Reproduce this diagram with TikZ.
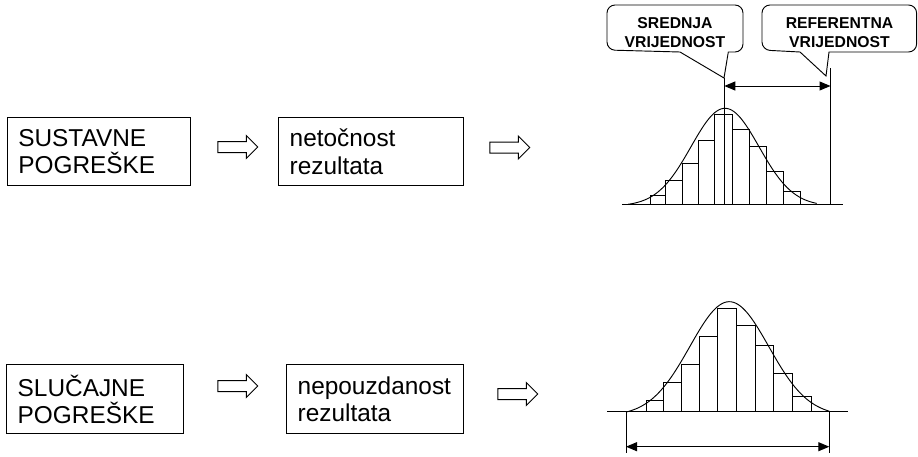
\documentclass[tikz,border=0pt]{standalone}
\usepackage{fontspec}
\setmainfont{Liberation Sans}
\usetikzlibrary{shapes.arrows,arrows.meta}
\begin{document}
\begin{tikzpicture}[x=0.75pt,y=-0.75pt,line width=0.75pt,
  box/.style={draw, align=left, inner xsep=8.25pt, inner ysep=0pt,
    minimum height=51.5pt, text width=#1,
    font=\fontsize{18.3pt}{20.6pt}\selectfont},
  blockarrow/.style={draw, single arrow, inner xsep=0pt, inner ysep=3.75pt,
    minimum height=30pt, minimum width=16.5pt,
    single arrow head extend=4.5pt},
  bubbletext/.style={align=center, inner sep=0pt,
    font=\bfseries\fontsize{11.8pt}{14.25pt}\selectfont},
  bubble/.style={draw, line width=0.7pt},
  dimline/.style={{Triangle[length=8.25pt,width=6.75pt]}-{Triangle[length=8.25pt,width=6.75pt]}},
  bar/.style={draw, line width=0.7pt},
  curve/.style={line width=0.7pt}
]
\useasboundingbox (0,0) rectangle (918,457);

% ---------- systematic errors ----------
\node[box=121.05pt] (b1) at (99,151.6) {SUSTAVNE\\POGREŠKE};
\node[blockarrow] (a1) at (235,147) {};
\node[box=122.25pt] (b2) at (371.2,151.6) {netočnost\\rezultata};
\node[blockarrow] (a2) at (507,147.5) {};

% histogram with the shifted mean
\coordinate (base1l) at (622,204);
\coordinate (base1r) at (843,204);
\draw (base1l) -- (base1r);
\foreach \xa/\xb/\t in {650/665.7/195.7, 665.7/682.3/180, 682.3/698.7/163.3,
    698.7/714.3/140, 714.3/732.3/114.3, 732.3/749.3/129, 749.3/766/146.7,
    766/783.3/171.7, 783.3/800.7/191.7}
  \draw[bar] (\xa,204) rectangle (\xb,\t);
\draw[curve] plot[domain=-96.7:91.7, samples=90, smooth]
  ({725+\x}, {204-95.7*(exp(-(\x*\x)/2312)-0.02)/0.98});

% mean and reference lines
\coordinate (mean1top) at (724.3,78);
\coordinate (mean1bot) at (724.3,204);
\coordinate (ref1top) at (830.5,68);
\coordinate (ref1bot) at (830.5,204);
\draw (mean1top) -- (mean1bot);
\draw (ref1top) -- (ref1bot);
\coordinate (dim1a) at (724.3,86);
\coordinate (dim1b) at (830.5,86);
\draw[dimline] (dim1a) -- (dim1b);

% callouts
\draw[bubble] (724,78) -- (680,52) [rounded corners=6pt] -- (607,50) -- (607,5)
  -- (743,5) -- (743,52) [sharp corners] -- (728.3,52) -- cycle;
\node[bubbletext] (c1) at (675,32.5) {SREDNJA\\VRIJEDNOST};

\draw[bubble] (826,76) -- (800,52) [rounded corners=6pt] -- (762,50) -- (762,5)
  -- (916.6,5) -- (916.6,52) [sharp corners] -- (829,52) -- cycle;
\node[bubbletext] (c2) at (839.5,32.5) {REFERENTNA\\VRIJEDNOST};

% ---------- random errors ----------
\node[box=115.95pt] (b3) at (95,399.2) {SLUČAJNE\\POGREŠKE};
\node[blockarrow] (a3) at (235,386) {};
\node[box=115.95pt] (b4) at (375,399.2) {nepouzdanost\\rezultata};
\node[blockarrow] (a4) at (515,394) {};

% histogram showing the spread
\coordinate (base2l) at (607,411.7);
\coordinate (base2r) at (848,411.7);
\draw (base2l) -- (base2r);
\foreach \xa/\xb/\t in {646.7/663.3/400.7, 663.3/681.7/382.7, 681.7/699.3/364,
    699.3/717.3/336.7, 717.3/736.7/308.3, 736.7/755/325, 755/773.3/345,
    773.3/792.7/373.3, 792.7/811.7/396}
  \draw[bar] (\xa,411.7) rectangle (\xb,\t);
\draw[curve] plot[domain=-103.3:100, samples=90, smooth]
  ({729.3+\x}, {411.7-110*(exp(-(\x*\x)/3120.5)-0.036)/0.964});

\coordinate (lim2ltop) at (626,411.7);
\coordinate (lim2lbot) at (626,453);
\coordinate (lim2rtop) at (829.3,411.7);
\coordinate (lim2rbot) at (829.3,453);
\draw (lim2ltop) -- (lim2lbot);
\draw (lim2rtop) -- (lim2rbot);
\coordinate (dim2a) at (626,446.7);
\coordinate (dim2b) at (829.3,446.7);
\draw[dimline] (dim2a) -- (dim2b);
\end{tikzpicture}
\end{document}
